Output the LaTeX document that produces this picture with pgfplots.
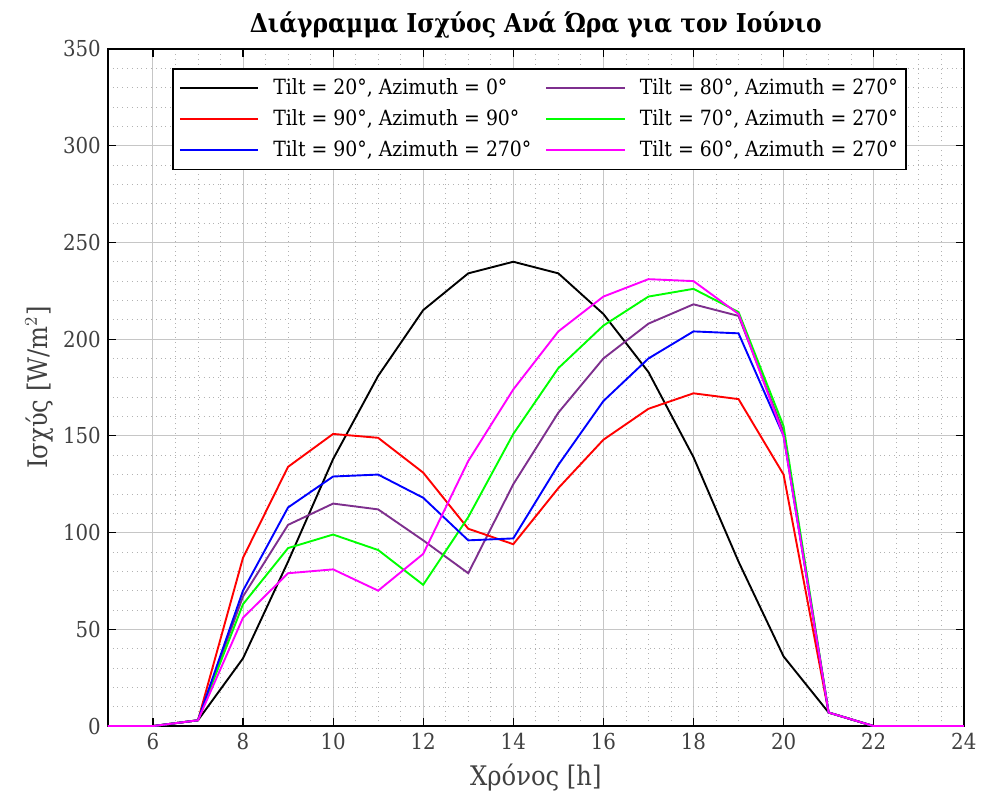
\documentclass[border=0pt]{standalone}
\usepackage{fontspec}
\setmainfont{DejaVu Serif Condensed}
\usepackage{pgfplots}
\pgfplotsset{compat=1.18}
\definecolor{mpurple}{rgb}{0.494,0.184,0.556}
\definecolor{mmag}{rgb}{1,0,1}
\definecolor{mgreen}{rgb}{0,1,0}
\definecolor{tickgray}{rgb}{0.25,0.25,0.25}
\begin{document}
\begin{tikzpicture}
\begin{axis}[
  name=main,
  scale only axis,
  width=428.5pt, height=339pt,
  xmin=5, xmax=24, ymin=0, ymax=350,
  xtick={6,8,...,24}, ytick={0,50,...,350},
  minor x tick num=3, minor y tick num=4,
  grid=both,
  major grid style={gray!45, line width=0.5pt},
  minor grid style={gray!60, dotted, line width=0.4pt},
  axis line style={black, line width=0.9pt},
  tick style={black, line width=0.6pt},
  minor tick length=0pt,
  major tick length=4pt,
  tick align=inside,
  /pgf/number format/assume math mode=true,
  ticklabel style={font=\fontsize{11}{12}\selectfont, text=tickgray},
  xlabel={Χρόνος [h]}, ylabel={Ισχύς [W/m$^2$]},
  label style={font=\fontsize{13.5}{15}\selectfont, text=tickgray},
  ylabel shift=-2pt,
  title={\textbf{Διάγραμμα Ισχύος Ανά Ώρα για τον Ιούνιο}},
  title style={font=\fontsize{13}{14}\selectfont, yshift=-4pt},
  legend columns=2,
  legend style={at={(rel axis cs:0.075,0.972)}, anchor=north west,
    draw=black, line width=0.9pt, font=\fontsize{10.5}{12}\selectfont,
    row sep=2pt, column sep=6pt, inner sep=3pt,
    nodes={inner xsep=1pt}},
  legend cell align=left,
  legend image post style={line width=1pt},
  legend image code/.code={\draw[#1] (0cm,0cm) -- (1.38cm,0cm);},
  every axis plot/.append style={line width=0.95pt},
]
\addplot[black] coordinates {(5,0)(6,0)(7,3)(8,35)(9,85)(10,138)(11,181)(12,215)(13,234)(14,240)(15,234)(16,213)(17,183)(18,139)(19,85)(20,36)(21,7)(22,0)(23,0)(24,0)};
\addlegendentry{Tilt = 20°, Azimuth = 0°}
\addplot[mpurple] coordinates {(5,0)(6,0)(7,3)(8,67)(9,104)(10,115)(11,112)(12,96)(13,79)(14,125)(15,162)(16,190)(17,208)(18,218)(19,212)(20,152)(21,7)(22,0)(23,0)(24,0)};
\addlegendentry{Tilt = 80°, Azimuth = 270°}
\addplot[red] coordinates {(5,0)(6,0)(7,3)(8,87)(9,134)(10,151)(11,149)(12,131)(13,102)(14,94)(15,123)(16,148)(17,164)(18,172)(19,169)(20,130)(21,7)(22,0)(23,0)(24,0)};
\addlegendentry{Tilt = 90°, Azimuth = 90°}
\addplot[mgreen] coordinates {(5,0)(6,0)(7,3)(8,63)(9,92)(10,99)(11,91)(12,73)(13,108)(14,151)(15,185)(16,207)(17,222)(18,226)(19,214)(20,155)(21,7)(22,0)(23,0)(24,0)};
\addlegendentry{Tilt = 70°, Azimuth = 270°}
\addplot[blue] coordinates {(5,0)(6,0)(7,3)(8,70)(9,113)(10,129)(11,130)(12,118)(13,96)(14,97)(15,135)(16,168)(17,190)(18,204)(19,203)(20,150)(21,7)(22,0)(23,0)(24,0)};
\addlegendentry{Tilt = 90°, Azimuth = 270°}
\addplot[mmag] coordinates {(5,0)(6,0)(7,3)(8,56)(9,79)(10,81)(11,70)(12,89)(13,137)(14,174)(15,204)(16,222)(17,231)(18,230)(19,213)(20,150)(21,7)(22,0)(23,0)(24,0)};
\addlegendentry{Tilt = 60°, Azimuth = 270°}
\end{axis}
\path (main.south west) ++(-54pt,-41.5pt) coordinate (bl);
\path (main.north east) ++(9pt,24.5pt) coordinate (tr);
\useasboundingbox (bl) rectangle (tr);
\end{tikzpicture}
\end{document}
